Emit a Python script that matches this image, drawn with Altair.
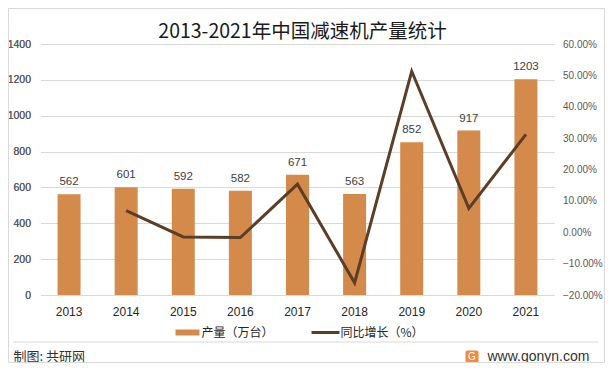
import altair as alt
import pandas as pd

years = ['2013', '2014', '2015', '2016', '2017', '2018', '2019', '2020', '2021']
output = [562, 601, 592, 582, 671, 563, 852, 917, 1203]
growth_pct = [None, 6.9, -1.5, -1.7, 15.3, -16.1, 51.3, 7.6, 31.2]
left_ticks = [0, 200, 400, 600, 800, 1000, 1200, 1400]
right_ticks = [-0.2, -0.1, 0.0, 0.1, 0.2, 0.3, 0.4, 0.5, 0.6]

title_text = '2013-2021年中国减速机产量统计'
legend_bar = '产量（万台）'
legend_line = '同比增长（%）'
source_text = '制图: 共研网'
site_text = 'www.gonyn.com'

BAR = '#D48A4B'
LINE = '#5C3D25'
CJK = 'Noto Sans CJK SC'
NUM = 'Liberation Sans'

df = pd.DataFrame({
    'year': years,
    'output': output,
    'growth': [None if g is None else g / 100 for g in growth_pct],
})

W, H = 514, 251
xenc = alt.X('year:N', sort=years, title=None,
             scale=alt.Scale(paddingInner=0.6, paddingOuter=0.3),
             axis=alt.Axis(labelAngle=0, domain=False, ticks=False, labelPadding=11,
                           labelColor='#262626', labelFontSize=12, labelFont=NUM))

yleft = alt.Y('output:Q', title=None,
              scale=alt.Scale(domain=[0, 1400]),
              axis=alt.Axis(values=left_ticks, format='d', grid=True, gridColor='#D9D9D9', domain=False,
                            ticks=False, labelPadding=10, labelColor='#595959',
                            labelFontSize=10.5, labelFont=NUM, orient='left'))

base = alt.Chart(df)
bars = base.mark_bar(color=BAR, size=23).encode(x=xenc, y=yleft)
labels = base.mark_text(baseline='bottom', dy=-7, color='#404040', fontSize=11.5, font=NUM).encode(
    x=xenc, y=yleft, text='output:Q')
line = base.transform_filter('isValid(datum.growth)').mark_line(color=LINE, strokeWidth=3).encode(
    x=xenc,
    y=alt.Y('growth:Q', title=None, scale=alt.Scale(domain=[-0.2, 0.6]),
            axis=alt.Axis(values=right_ticks, format='.2%', grid=False, domain=False, ticks=False,
                          labelPadding=8, labelColor='#595959', labelFontSize=10, labelFont=NUM,
                          orient='right')))

one = pd.DataFrame({'k': [0]})
def txt(s, x, y, size, color='#262626', align='left', font=CJK, baseline='middle'):
    return alt.Chart(one).mark_text(align=align, baseline=baseline, fontSize=size, color=color,
                                    font=font).encode(x=alt.value(x), y=alt.value(y), text=alt.value(s))

title = txt(title_text, 262, -12, 19.5, color='#1a1a1a', align='center')
leg_rect = alt.Chart(one).mark_rect(color=BAR).encode(
    x=alt.value(135), x2=alt.value(159), y=alt.value(285.5), y2=alt.value(291.5))
leg_t1 = txt(legend_bar, 161, 288.5, 12)
leg_line = alt.Chart(one).mark_rule(color=LINE, strokeWidth=3).encode(
    x=alt.value(271), x2=alt.value(299), y=alt.value(288.5))
leg_t2 = txt(legend_line, 300, 288.5, 12)
foot_rule = alt.Chart(one).mark_rule(color='#D9D9D9', strokeWidth=1).encode(
    x=alt.value(-27), x2=alt.value(558), y=alt.value(298))
src = txt(source_text, -27, 312.5, 13, color='#333333')
logo = alt.Chart(one).mark_rect(color='#F08A3C', cornerRadius=2).encode(
    x=alt.value(425), x2=alt.value(438), y=alt.value(306.5), y2=alt.value(319))
logo_g = txt('G', 431.5, 313, 10, color='white', align='center', font='Liberation Sans')
site = txt(site_text, 447, 312.5, 14, color='#333333', font='Liberation Sans')
border = alt.Chart(one).mark_rect(fill='transparent', stroke='#D9D9D9', strokeWidth=1).encode(
    x=alt.value(-32), x2=alt.value(564), y=alt.value(-35.5), y2=alt.value(318.5))

main = alt.layer(bars, labels, line).resolve_scale(y='independent')
chart = alt.layer(main, title, leg_rect, leg_t1, leg_line, leg_t2, foot_rule, src, logo, logo_g, site, border
).properties(
    width=W, height=H,
    padding={'left': 32.5, 'top': 36, 'right': 50.5, 'bottom': 68},
    autosize=alt.AutoSizeParams(type='none'),
).configure_view(stroke=None)

chart.save('out.html', embed_options={'renderer': 'svg', 'actions': False})
